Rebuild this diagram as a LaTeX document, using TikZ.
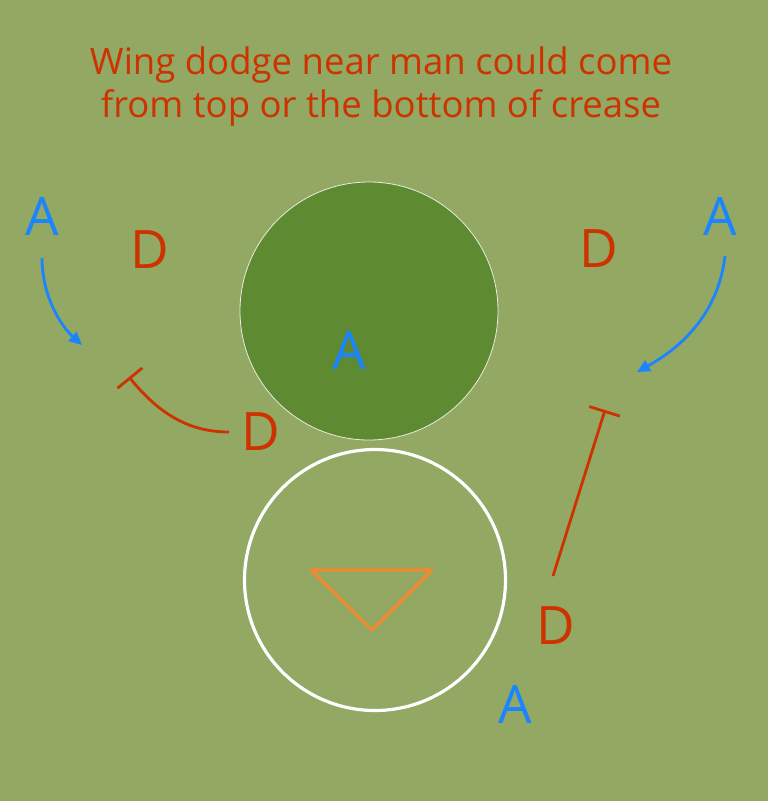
\documentclass[tikz,border=0pt]{standalone}
\usepackage{fontspec}
\setmainfont{Open Sans}
\usetikzlibrary{arrows.meta}
\definecolor{bg}{HTML}{93A862}
\definecolor{dark}{HTML}{5E8A32}
\definecolor{redd}{HTML}{CC3300}
\definecolor{blu}{HTML}{1A85FF}
\definecolor{orng}{HTML}{F08A30}
\tikzset{
  lblA/.style={text=blu,font=\fontsize{53}{53}\selectfont,inner sep=0pt},
  lblD/.style={text=redd,font=\fontsize{53}{53}\selectfont,inner sep=0pt},
  runarrow/.style={blu,line width=2.8pt,-{Triangle[length=13pt,width=12pt]}},
  blockline/.style={redd,line width=2.8pt,-{Bar[width=32pt]}},
}
\begin{document}
\begin{tikzpicture}[x=1pt,y=-1pt]
\fill[bg] (0,0) rectangle (768,801);
\useasboundingbox (0,0) rectangle (768,801);
\node[text=redd,font=\fontsize{36.5}{43}\selectfont,align=center] (title) at (381,87) {Wing dodge near man could come\\from top or the bottom of crease};
\node[circle,fill=dark,draw=white!85!dark,line width=0.8pt,minimum size=258pt,inner sep=0pt] (goalarea) at (369,311) {};
\node[circle,draw=white,line width=3.2pt,minimum size=261pt,inner sep=0pt] (crease) at (375,580) {};
\draw[orng,line width=3.2pt,line join=round] (311,570) -- (432,570) -- (372,630) -- cycle;
\node[lblA] (a1) at (42,216) {A};
\node[lblA] (a2) at (720,216) {A};
\node[lblA] (a3) at (349,350) {A};
\node[lblA] (a4) at (515,704) {A};
\node[lblD] (d1) at (150,250) {D};
\node[lblD] (d2) at (599,249) {D};
\node[lblD] (d3) at (261,432) {D};
\node[lblD] (d4) at (556,626) {D};
\coordinate (t1) at (82,345);
\coordinate (t2) at (637,372);
\coordinate (b1) at (129,377);
\coordinate (b2) at (605,410);
\draw[runarrow] (42,258) .. controls (42,295) and (60,325) .. (t1);
\draw[runarrow] (725,256) .. controls (718,315) and (680,348) .. (t2);
\draw[blockline] (229,432) .. controls (190,432) and (160,415) .. (b1);
\draw[blockline] (553,576) -- (b2);
\end{tikzpicture}
\end{document}
